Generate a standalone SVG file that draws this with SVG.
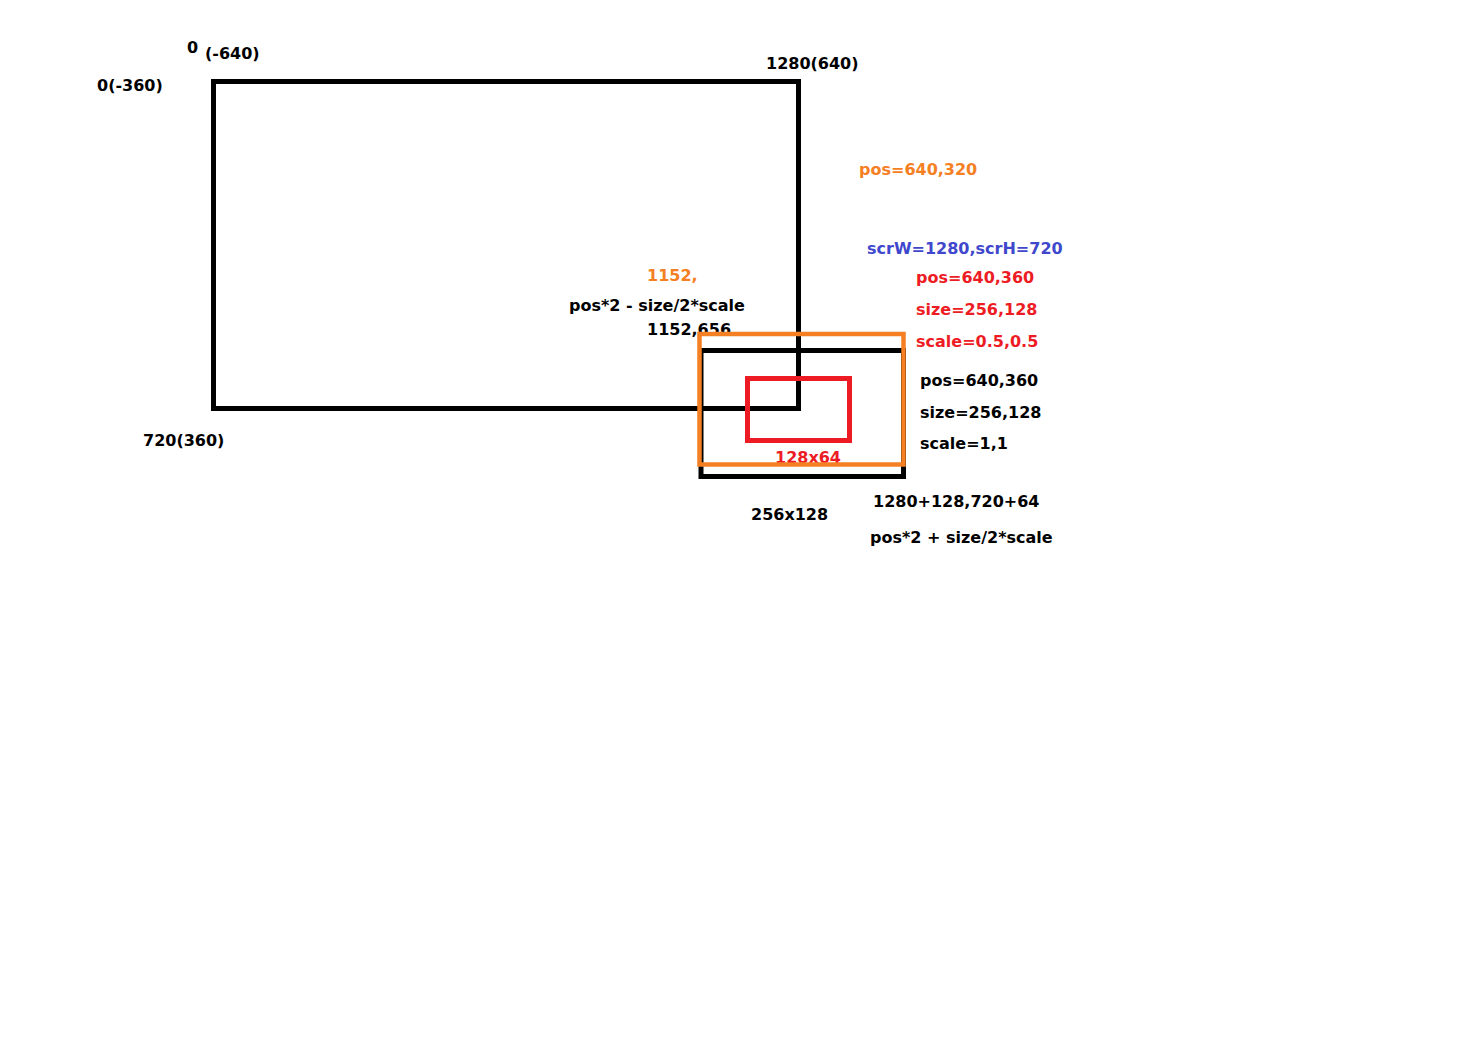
<svg xmlns="http://www.w3.org/2000/svg" width="1476" height="1044" viewBox="0 0 1476 1044">
<style>
text{font-family:"DejaVu Sans","Verdana",sans-serif;font-weight:bold;font-size:16px;fill:#000}
.o{fill:#f58023}.r{fill:#ed1c24}.b{fill:#3f48cc}
rect{fill:none}
</style>
<rect x="0" y="0" width="1476" height="1044" fill="#fff" style="fill:#fff"/>
<g id="screen">
<rect x="213.5" y="81.5" width="585" height="327" stroke="#000" stroke-width="5"/>
</g>
<g id="sprite-full">
<rect x="701" y="350.5" width="202.5" height="126" stroke="#000" stroke-width="5"/>
</g>
<g id="sprite-scaled">
<rect x="747.5" y="378.5" width="102" height="62" stroke="#ed1c24" stroke-width="5"/>
<text x="775" y="463" class="r">128x64</text>
</g>
<g id="labels">
<text x="187" y="53">0</text>
<text x="205" y="59">(-640)</text>
<text x="97" y="91">0(-360)</text>
<text x="766" y="69">1280(640)</text>
<text x="143" y="446">720(360)</text>
<text x="859" y="175" class="o">pos=640,320</text>
<text x="867" y="254" class="b">scrW=1280,scrH=720</text>
<text x="916" y="283" class="r">pos=640,360</text>
<text x="916" y="315" class="r">size=256,128</text>
<text x="916" y="347" class="r">scale=0.5,0.5</text>
<text x="920" y="386">pos=640,360</text>
<text x="920" y="418">size=256,128</text>
<text x="920" y="449">scale=1,1</text>
<text x="647" y="281" class="o">1152,</text>
<text x="569" y="311">pos*2 - size/2*scale</text>
<text x="647" y="335">1152,656</text>
<text x="751" y="520">256x128</text>
<text x="873" y="507">1280+128,720+64</text>
<text x="870" y="543">pos*2 + size/2*scale</text>
</g>
<g id="sprite-bounds">
<rect x="699.5" y="334" width="204" height="130.5" stroke="#f58023" stroke-width="4.5"/>
</g>
</svg>
